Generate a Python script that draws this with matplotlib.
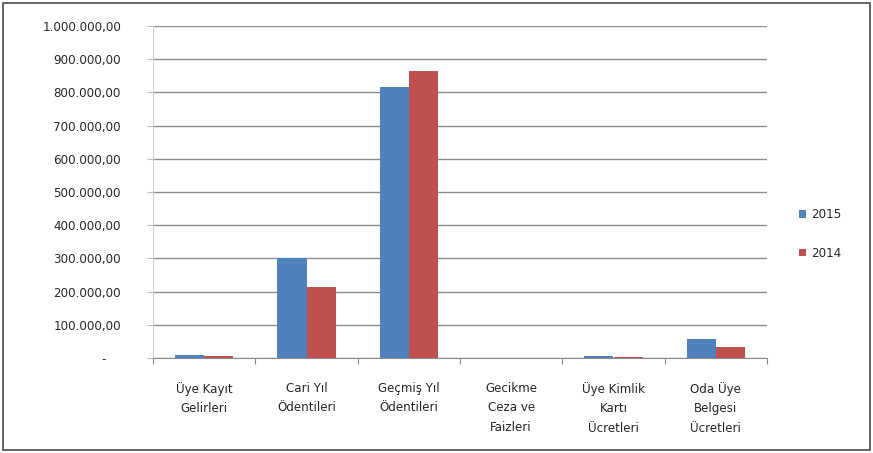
import matplotlib
matplotlib.use("Agg")
import matplotlib.pyplot as plt
from matplotlib.patches import Rectangle
import numpy as np

categories = ["Üye Kayıt\nGelirleri", "Cari Yıl\nÖdentileri", "Geçmiş Yıl\nÖdentileri",
              "Gecikme\nCeza ve\nFaizleri", "Üye Kimlik\nKartı\nÜcretleri", "Oda Üye\nBelgesi\nÜcretleri"]
series_names = ["2015", "2014"]
values_2015 = [9000, 301000, 816000, 500, 6000, 57000]
values_2014 = [5000, 214000, 864000, 300, 4000, 33000]
yticks = [0, 100000, 200000, 300000, 400000, 500000, 600000, 700000, 800000, 900000, 1000000]
ytick_labels = ["-    ", "100.000,00", "200.000,00", "300.000,00", "400.000,00", "500.000,00",
                "600.000,00", "700.000,00", "800.000,00", "900.000,00", "1.000.000,00"]

colors = ["#4F81BD", "#C0504D"]
plt.rcParams['font.family'] = ['DejaVu Sans']
FS = 8.6
TXT = "#262626"

W, H = 873, 453
fig = plt.figure(figsize=(W/100, H/100), dpi=100)
ax = fig.add_axes([153/W, 1-358/H, (767-153)/W, (358-26)/H])

x = np.arange(len(categories))
bw = 1/3.5
ax.bar(x - bw/2, values_2015, bw, color=colors[0], label=series_names[0])
ax.bar(x + bw/2, values_2014, bw, color=colors[1], label=series_names[1])

ax.set_xlim(-0.5, len(categories)-0.5)
ax.set_ylim(0, 1000000)
ax.set_yticks(yticks)
ax.set_yticklabels(ytick_labels)
ax.yaxis.grid(True, color="#8c8c8c", linewidth=1)
ax.set_axisbelow(True)
ax.tick_params(axis='y', length=4, color="#bdbdbd", labelsize=FS, pad=19, labelcolor=TXT)
ax.set_xticks(np.arange(-0.5, len(categories), 1))
ax.set_xticklabels([])
ax.set_xticks(x, minor=True)
ax.set_xticklabels(categories, minor=True, fontsize=FS, linespacing=1.65, color=TXT, va="top")
ax.tick_params(axis='x', which='major', length=4, color="#8c8c8c")
ax.tick_params(axis='x', which='minor', length=0, pad=17)
for s in ["top", "right"]:
    ax.spines[s].set_visible(False)
ax.spines["left"].set_color("#d0d0d0")
ax.spines["bottom"].set_color("#8c8c8c")

leg = fig.legend(loc="center left", bbox_to_anchor=(788/W, 1-234/H), frameon=False,
                 fontsize=FS, handlelength=0.6, handleheight=0.6, handletextpad=0.4,
                 labelspacing=2.1, labelcolor=TXT)

fig.patches.append(Rectangle((3/W, 3/H), (W-6)/W, (H-6)/H, transform=fig.transFigure,
                             fill=False, edgecolor="#4a4a4a", linewidth=1.2))
fig.savefig("out.png", dpi=100)
